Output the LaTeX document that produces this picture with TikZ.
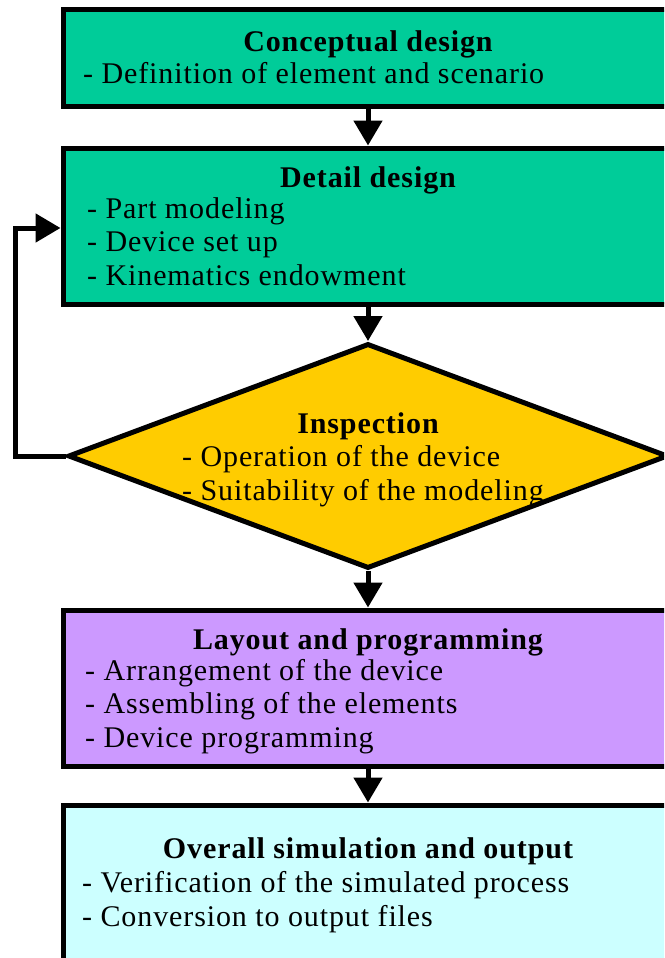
\documentclass[tikz,border=0pt]{standalone}
\usepackage{fontspec}
\setmainfont{Liberation Serif}[LetterSpace=3]
\usetikzlibrary{arrows.meta,shapes.geometric}

\definecolor{designgreen}{HTML}{00CC99}
\definecolor{checkyellow}{HTML}{FFCC00}
\definecolor{layoutviolet}{HTML}{CC99FF}
\definecolor{outputcyan}{HTML}{CCFFFF}

\tikzset{
  stagebox/.style={draw, line width=5pt, minimum width=610pt, inner sep=0pt},
  flowarrow/.style={line width=5pt, -{Triangle[length=25pt,width=28pt]}},
  headtext/.style={font=\fontsize{30}{32}\selectfont\bfseries, anchor=base, inner sep=0pt},
  % base of a multi-line node = baseline of its last line
  listtext/.style={font=\fontsize{30}{33.5}\selectfont, align=left, anchor=base west, inner sep=0pt},
}

\begin{document}
\begin{tikzpicture}[x=1pt,y=-1pt]
\clip (0,0) rectangle (664,958);

% stages
\node [stagebox, fill=designgreen, minimum height=96pt] (concept) at (368,58) {};
\node [stagebox, fill=designgreen, minimum height=156pt] (detail) at (368,226) {};
\node [diamond, draw, line width=5pt, fill=checkyellow, minimum width=600pt, minimum height=225pt, inner sep=0pt] (inspect) at (368,456) {};
\node [stagebox, fill=layoutviolet, minimum height=156pt] (layout) at (368,688) {};
\node [stagebox, fill=outputcyan, minimum height=200pt] (output) at (368,905) {};

% texts
\node [headtext] (conceptT) at (368,52) {Conceptual design};
\node [listtext] (conceptL) at (83,84) {- Definition of element and scenario};
\node [headtext] (detailT) at (368,187) {Detail design};
\node [listtext] (detailL) at (87,285) {- Part modeling\\- Device set up\\- Kinematics endowment};
\node [headtext] (inspectT) at (368,433) {Inspection};
\node [listtext] (inspectL) at (182,500) {- Operation of the device\\- Suitability of the modeling};
\node [headtext] (layoutT) at (368,649) {Layout and programming};
\node [listtext] (layoutL) at (85,747) {- Arrangement of the device\\- Assembling of the elements\\- Device programming};
\node [headtext] (outputT) at (368,858) {Overall simulation and output};
\node [listtext] (outputL) at (82,926) {- Verification of the simulated process\\- Conversion to output files};

% connectors
\draw [flowarrow] (concept) -- (detail);
\draw [flowarrow] (detail) -- (inspect);
\draw [flowarrow] (inspect) -- (layout);
\draw [flowarrow] (layout) -- (output);
\coordinate (loopdown) at (15,456);
\coordinate (loopup) at (15,228);
\draw [flowarrow] (inspect.west) -- (loopdown) -- (loopup) -- (loopup -| detail.west);
\end{tikzpicture}
\end{document}
